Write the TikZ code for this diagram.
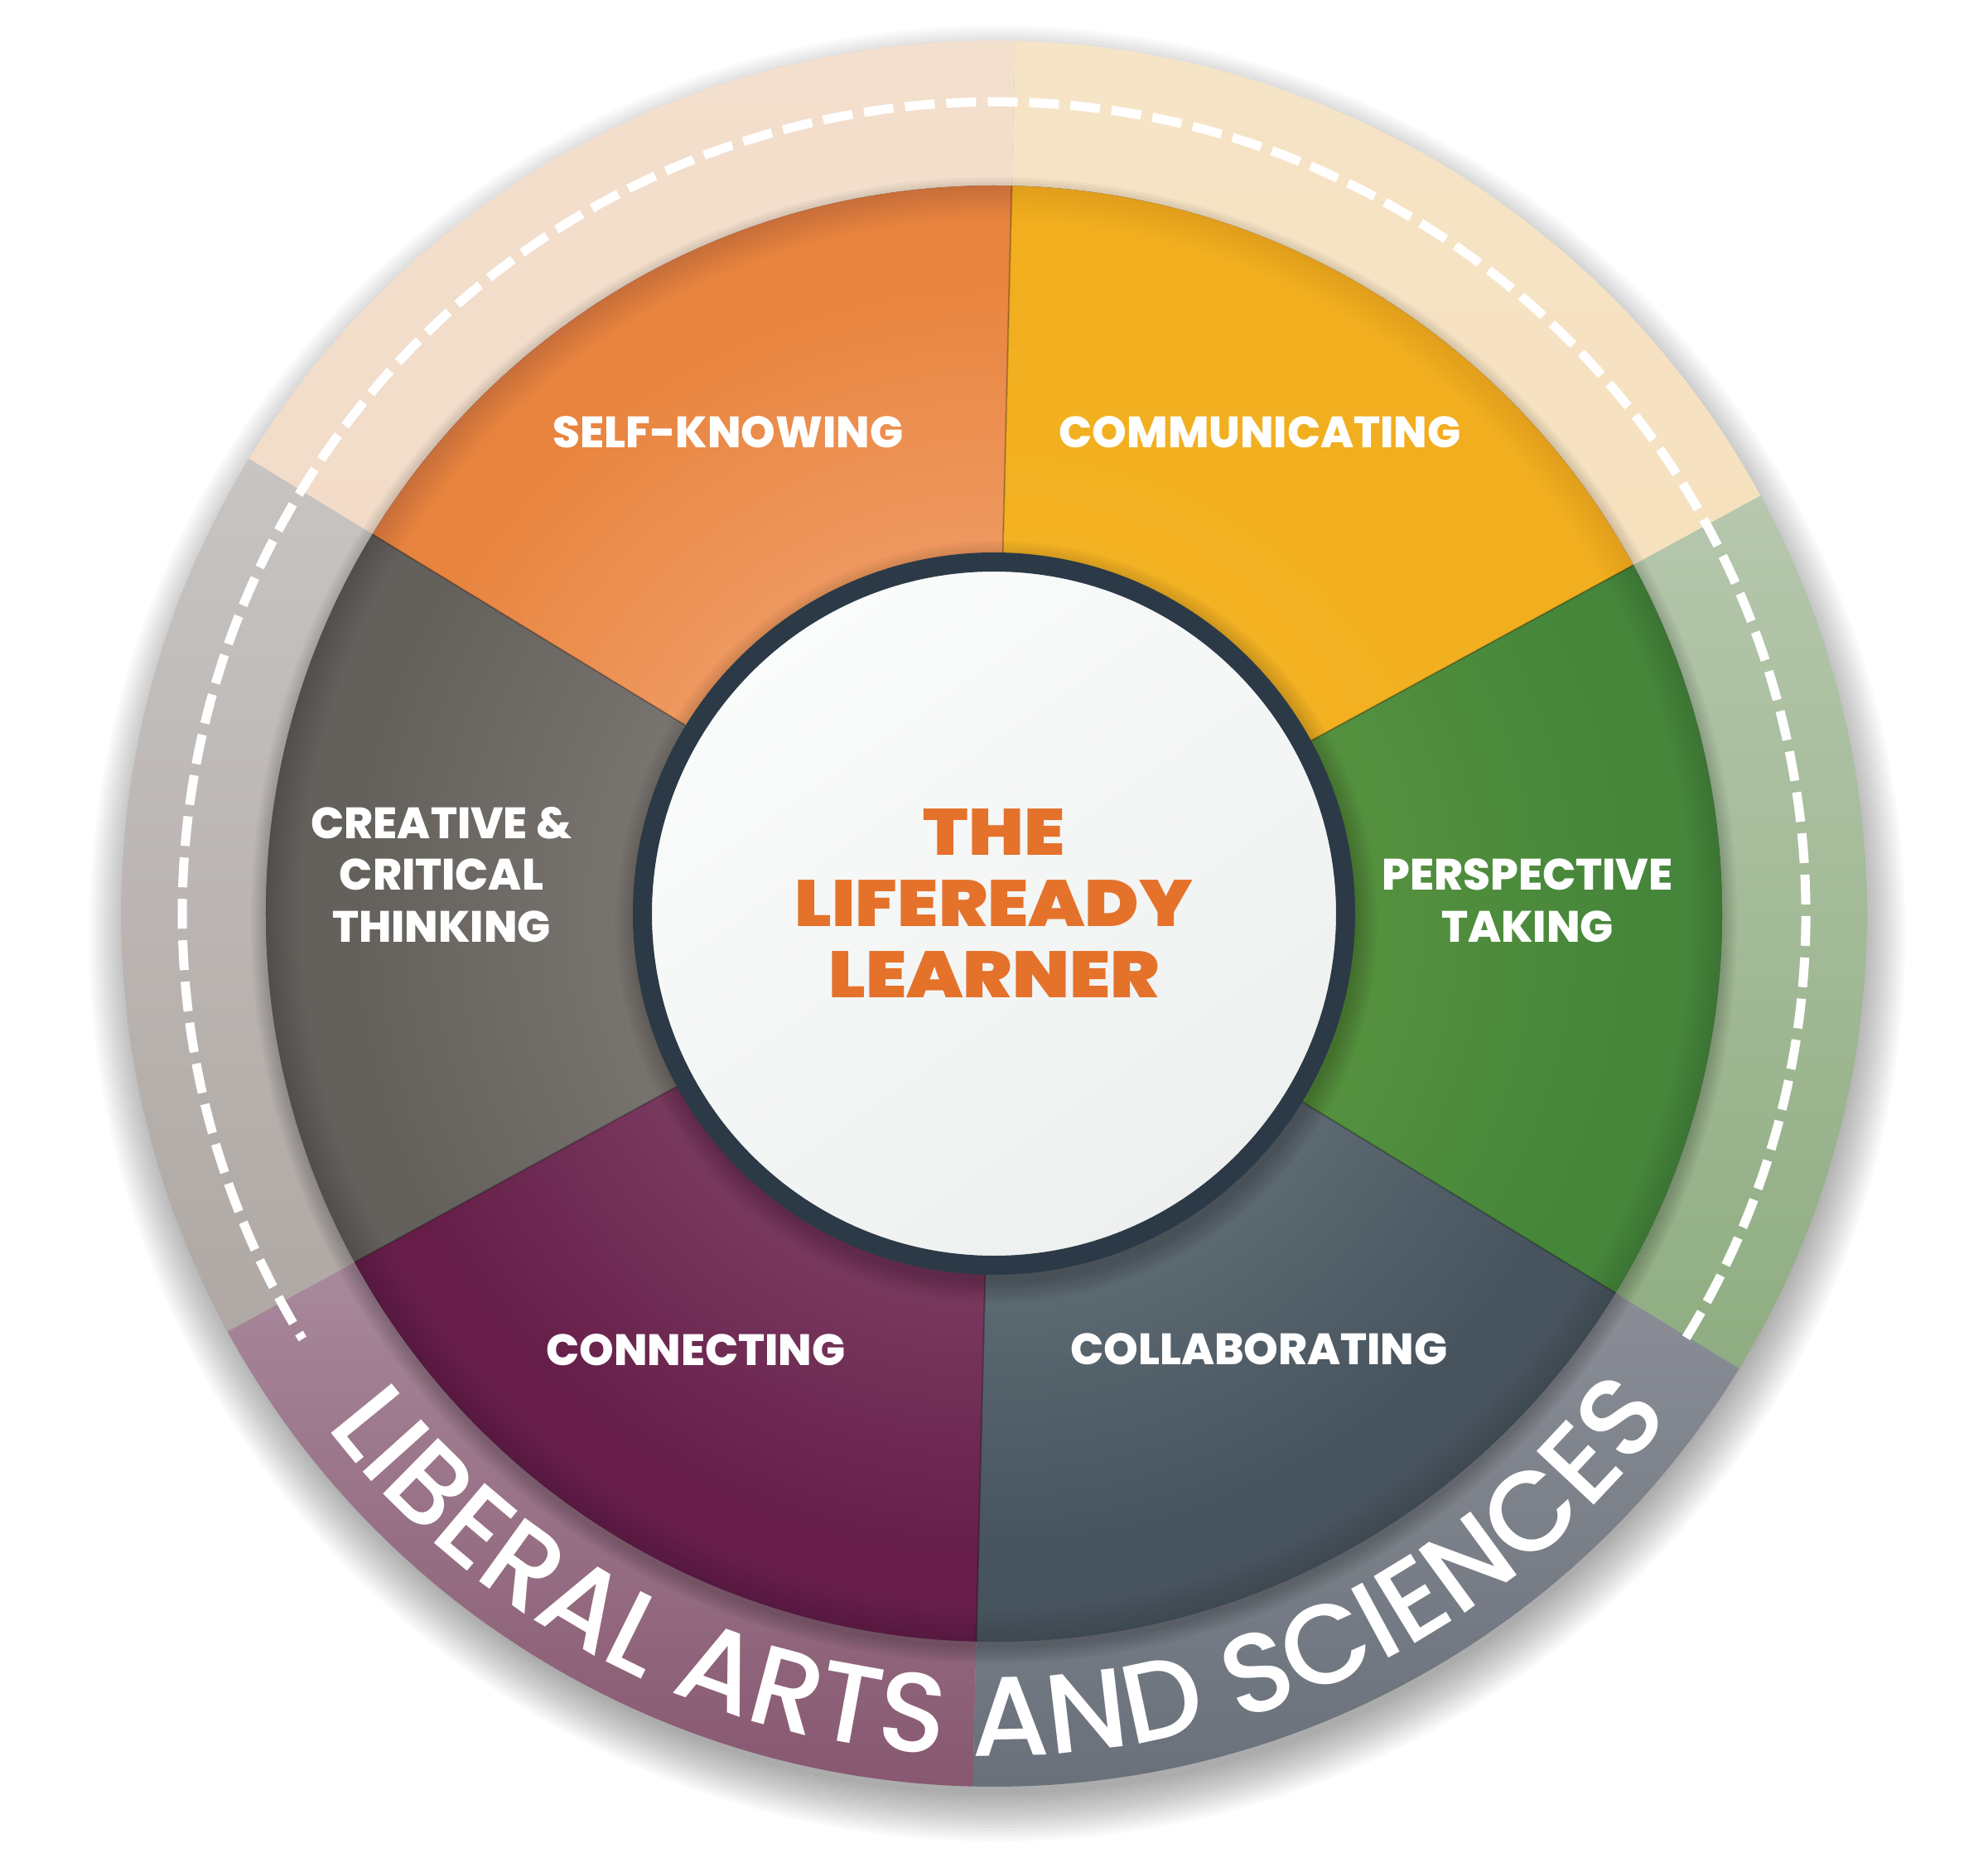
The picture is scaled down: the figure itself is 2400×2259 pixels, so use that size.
\documentclass[tikz,border=0pt]{standalone}
\usepackage{fontspec}
\setmainfont{Poppins}
\newfontfamily\heavyfont{Poppins Black}[FakeStretch=1.12]
\newfontfamily\labfont{Poppins ExtraBold}
\newfontfamily\arcfont{Poppins Medium}
\usetikzlibrary{decorations.text}

\definecolor{pinner}{HTML}{FFFFFF}
\definecolor{pmid}{HTML}{FFFFFF}
\definecolor{pouter}{HTML}{FFFFFF}
\definecolor{centerdark}{HTML}{2B3A46}
\definecolor{titleorange}{HTML}{E4722A}
\definecolor{piebase}{HTML}{4A4A4A}
\definecolor{discA}{HTML}{FAFBFB}
\definecolor{discB}{HTML}{EEEFEF}
% ring colours (top, bottom)
\definecolor{rPeachA}{HTML}{F3DFCD}\definecolor{rPeachB}{HTML}{F2DCC9}
\definecolor{rCreamA}{HTML}{F6E4C7}\definecolor{rCreamB}{HTML}{F6E1BE}
\definecolor{rGreenA}{HTML}{B6C7AD}\definecolor{rGreenB}{HTML}{8FAD81}
\definecolor{rSlateA}{HTML}{8B8E96}\definecolor{rSlateB}{HTML}{69707A}
\definecolor{rMauveA}{HTML}{A98A9C}\definecolor{rMauveB}{HTML}{875870}
\definecolor{rGreyA}{HTML}{C7C4C2}\definecolor{rGreyB}{HTML}{AFA8A4}
% pie colours (inner, mid, rim)
\definecolor{pOrA}{HTML}{EF9A62}\definecolor{pOrB}{HTML}{E8843E}\definecolor{pOrC}{HTML}{C76E3A}
\definecolor{pYeA}{HTML}{F3B223}\definecolor{pYeB}{HTML}{F1AE1E}\definecolor{pYeC}{HTML}{E09E1C}
\definecolor{pGrA}{HTML}{56923F}\definecolor{pGrB}{HTML}{46863A}\definecolor{pGrC}{HTML}{3B7433}
\definecolor{pSlA}{HTML}{5F6C74}\definecolor{pSlB}{HTML}{47535D}\definecolor{pSlC}{HTML}{3D4851}
\definecolor{pMaA}{HTML}{7B3C61}\definecolor{pMaB}{HTML}{661E49}\definecolor{pMaC}{HTML}{561840}
\definecolor{pGyA}{HTML}{7A7570}\definecolor{pGyB}{HTML}{64605C}\definecolor{pGyC}{HTML}{524E4B}

\pgfdeclareradialshading[pinner,pmid,pouter]{pieshade}{\pgfpoint{0bp}{0bp}}{%
  color(0bp)=(pinner); color(12bp)=(pinner); color(22bp)=(pmid);
  color(23.8bp)=(pmid); color(25bp)=(pouter); color(50bp)=(pouter)}

\newcommand\piesector[5]{%
  \colorlet{pinner}{#3}\colorlet{pmid}{#4}\colorlet{pouter}{#5}%
  \begin{scope}
    \clip (0,0) -- (#1:900) arc[start angle=#1, end angle=#2, radius=900] -- cycle;
    \shade[shading=pieshade] (0,0) circle (879);
  \end{scope}}

\newcommand\ringsector[4]{%
  \shade[top color=#3, bottom color=#4]
    (#1:860) -- (#1:1054) arc[start angle=#1, end angle=#2, radius=1054]
    -- (#2:860) arc[start angle=#2, end angle=#1, radius=860] -- cycle;}

\begin{document}
\begin{tikzpicture}[x=1pt,y=1pt,
  lab/.style={text=white, font=\labfont\fontsize{53}{60}\selectfont, anchor=base, inner sep=0pt},
  ctr/.style={text=titleorange, font=\heavyfont\fontsize{79}{86}\selectfont, anchor=base, inner sep=0pt}]

\fill[white] (-1200,-1156) rectangle (1200,1103);
\useasboundingbox (-1200,-1156) rectangle (1200,1103);

% soft drop shadow under the wheel
\foreach \k in {0,...,14}
  \fill[black, opacity=0.022] (4,-24) circle ({1040+4*\k});

% outer ring sectors
\ringsector{88.6}{148.6}{rPeachA}{rPeachB}
\ringsector{28.6}{88.6}{rCreamA}{rCreamB}
\ringsector{-31.4}{28.6}{rGreenA}{rGreenB}
\ringsector{-91.4}{-31.4}{rSlateA}{rSlateB}
\ringsector{208.6}{268.6}{rMauveA}{rMauveB}
\ringsector{148.6}{208.6}{rGreyA}{rGreyB}

% dashed circle
\draw[white, line width=11pt, dash pattern=on 36pt off 14pt]
  (-31.5:980) arc[start angle=-31.5, end angle=211.6, radius=980];

% shadow of the pie onto the ring
\foreach \k in {0,...,6}
  \fill[black, opacity=0.03] (0,-8) circle ({879+3*\k});

% pie base
\fill[piebase] (0,0) circle (879);

% pie sectors
\piesector{88.6}{148.6}{pOrA}{pOrB}{pOrC}
\piesector{28.6}{88.6}{pYeA}{pYeB}{pYeC}
\piesector{-31.4}{28.6}{pGrA}{pGrB}{pGrC}
\piesector{-91.4}{-31.4}{pSlA}{pSlB}{pSlC}
\piesector{208.6}{268.6}{pMaA}{pMaB}{pMaC}
\piesector{148.6}{208.6}{pGyA}{pGyB}{pGyC}

% sector boundaries
\foreach \a in {88.6,28.6,-31.4,-91.4,208.6,148.6}
  \draw[black, opacity=0.25, line width=2pt] (\a:436) -- (\a:879);

% shadow of the centre disc
\foreach \k in {0,...,8}
  \fill[black, opacity=0.025] (3,-10) circle ({436+3*\k});

% centre disc
\shade[top color=discA, bottom color=discB, shading angle=35]
  (0,0) circle (420);
\draw[centerdark, line width=23pt] (0,0) circle (424.5);

% centre title
\node[ctr] (t1) at (0,71) {THE};
\node[ctr] (t2) at (0,-15) {LIFEREADY};
\node[ctr] (t3) at (0,-101) {LEARNER};

% sector labels
\node[lab] (sk) at (-321,562) {SELF-KNOWING};
\node[lab] (cm) at (321,562) {COMMUNICATING};
\node[lab] (cr1) at (-667,91) {CREATIVE \&};
\node[lab] (cr2) at (-667,29) {CRITICAL};
\node[lab] (cr3) at (-667,-34) {THINKING};
\node[lab] (pt1) at (644,29) {PERSPECTIVE};
\node[lab] (pt2) at (644,-34) {TAKING};
\node[lab] (cn) at (-360,-545) {CONNECTING};
\node[lab] (cl) at (320,-544) {COLLABORATING};

% curved text
\path[decorate, decoration={text along path, text align=center, text color=white,
  text={|\arcfont\fontsize{136}{136}\selectfont|LIBERAL ARTS AND SCIENCES}}]
  (215:1017) arc[start angle=215, end angle=326, radius=1017];

\end{tikzpicture}
\end{document}
